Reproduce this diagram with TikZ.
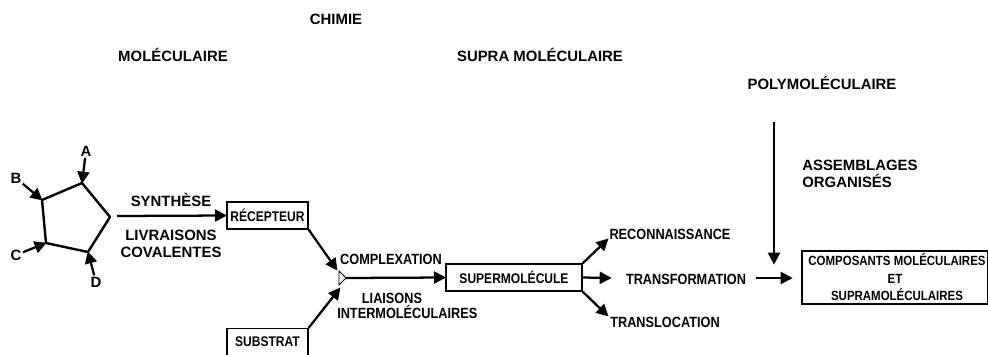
\documentclass[tikz,border=0pt]{standalone}
\usepackage{fontspec}
\setmainfont{Liberation Sans}
\newfontfamily\narrowfont[FakeStretch=0.86]{Liberation Sans}
\usetikzlibrary{arrows.meta}
\tikzset{
  x=0.75pt,y=-0.75pt,
  narrowlab/.style={inner sep=0pt,font=\narrowfont\fontsize{11.1pt}{11.6pt}\selectfont\bfseries,align=center},
  box/.style={draw,line width=1pt,inner sep=0pt,font=\narrowfont\fontsize{10.5pt}{13.5pt}\selectfont\bfseries,align=center},
  conn/.style={line width=1.7pt,-{Triangle[length=9pt,width=9pt]},shorten >=-0.5pt},
  ring/.style={line width=1.8pt,line join=round},
  bigl/.style={inner sep=0pt,font=\fontsize{11.2pt}{12.6pt}\selectfont\bfseries,align=center},
}
\begin{document}
\begin{tikzpicture}
\useasboundingbox (0,0) rectangle (988,354);
% titles
\node[bigl] (chimie) at (336,19) {CHIMIE};
\node[bigl] (mol) at (173,55) {MOLÉCULAIRE};
\node[bigl] (supra) at (540,55) {SUPRA MOLÉCULAIRE};
\node[bigl] (poly) at (822,83) {POLYMOLÉCULAIRE};
% pentagon
\coordinate (p1) at (82,183);
\coordinate (p2) at (110,217);
\coordinate (p3) at (88,252);
\coordinate (p4) at (46,243);
\coordinate (p5) at (42,200);
\draw[ring] (p1) -- (p2) -- (p3) -- (p4) -- (p5) -- cycle;
\node[bigl] (A) at (86,151) {A};
\node[bigl] (B) at (16,178) {B};
\node[bigl] (C) at (16,255) {C};
\node[bigl] (D) at (96,282) {D};
\draw[conn,shorten <=1pt] (A) -- (p1);
\draw[conn,shorten <=1pt] (B) -- (p5);
\draw[conn,shorten <=1pt] (C) -- (p4);
\draw[conn,shorten <=1pt] (D) -- (p3);
% boxes
\node[box,minimum width=81pt*0.75,minimum height=27pt*0.75] (rec) at (267.5,215.5) {RÉCEPTEUR};
\node[box,minimum width=81pt*0.75,minimum height=27pt*0.75] (sub) at (267.5,342) {SUBSTRAT};
\node[box,minimum width=136pt*0.75,minimum height=27pt*0.75] (sup) at (514,277.5) {SUPERMOLÉCULE};
\node[box,font=\narrowfont\fontsize{10pt}{13.2pt}\selectfont\bfseries,minimum width=186pt*0.75,minimum height=53pt*0.75] (comp) at (895,277.5) {\hspace*{3pt}COMPOSANTS MOLÉCULAIRES\\ET\\\hspace*{3pt}SUPRAMOLÉCULAIRES};
% labels
\node[bigl] (syn) at (171,200) {SYNTHÈSE};
\node[bigl] (liv) at (171,244) {LIVRAISONS\\COVALENTES};
\node[narrowlab] (cpx) at (391,259) {COMPLEXATION};
\node[narrowlab,align=left,anchor=west] (lia) at (337,306) {\hspace*{18.5pt}LIAISONS\\INTERMOLÉCULAIRES};
\node[narrowlab] (rc) at (670,234) {RECONNAISSANCE};
\node[narrowlab] (tf) at (686,279) {TRANSFORMATION};
\node[narrowlab] (tl) at (665,322) {TRANSLOCATION};
\node[bigl,align=left,anchor=west] (ass) at (802,174) {ASSEMBLAGES\\ORGANISÉS};
% connectors
\coordinate (s0) at (117,216);
\draw[conn] (s0) -- (rec.west);
\coordinate (t) at (346,278);
\coordinate (t1) at (339,271);
\coordinate (t2) at (339,285);
\draw[line width=0.6pt,fill=white] (t1) -- (t) -- (t2) -- cycle;
\draw[conn] (t) -- (sup.west);
\coordinate (c1) at (337,270);
\coordinate (c2) at (340,288);
\draw[conn] (rec.south east) -- (c1);
\draw[conn] (sub.north east) -- (c2);
\coordinate (r1) at (608,239);
\coordinate (r3) at (608,316);
\coordinate (r2) at (611,278);
\draw[conn] (sup.north east) -- (r1);
\draw[conn] (sup.east) -- (r2);
\draw[conn] (sup.south east) -- (r3);
\coordinate (v0) at (774,122);
\coordinate (v1) at (774,264);
\draw[conn] (v0) -- (v1);
\coordinate (h0) at (756,278);
\coordinate (h1) at (792,278);
\draw[conn] (h0) -- (h1);
\end{tikzpicture}
\end{document}
